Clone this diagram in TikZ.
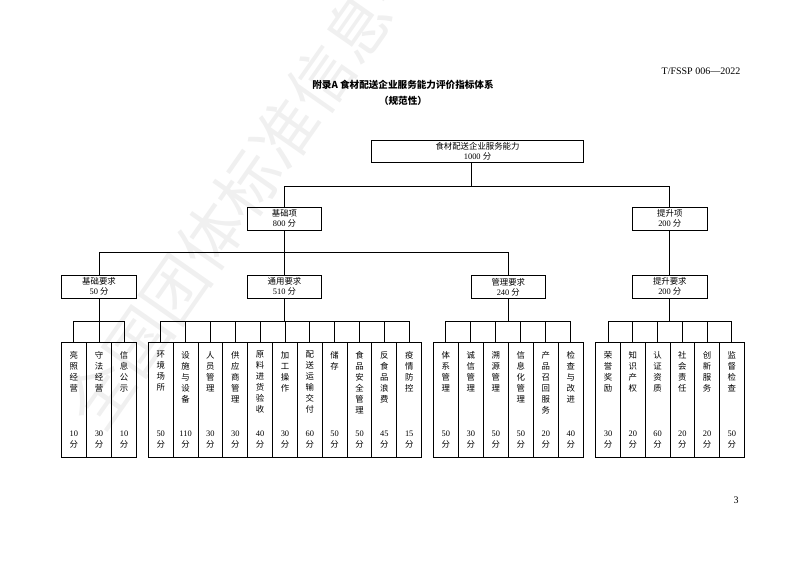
\documentclass[tikz,border=0pt]{standalone}
\usepackage{fontspec}
\setmainfont{Liberation Serif}
\newfontfamily\cjk{Noto Sans CJK SC}
\newcommand{\fen}{{\cjk 分}}
\newcommand{\boxfont}{\fontsize{6.3}{7.5}\selectfont}
\newcommand{\leaffont}{\fontsize{6.3}{8.25}\selectfont}
\tikzset{
  link/.style={line width=0.7pt},
  hdbox/.style={draw,line width=0.7pt,inner sep=0pt,minimum width=56pt,
    minimum height=17.25pt,align=center,font=\boxfont},
  leaf/.style={draw,line width=0.7pt,inner sep=0pt,minimum height=86.25pt,anchor=north},
  leafname/.style={inner sep=0pt,anchor=north,align=center,font=\cjk\leaffont},
  leafscore/.style={inner sep=0pt,anchor=south,align=center,font=\leaffont},
}
\begin{document}
\begin{tikzpicture}[x=0.75pt,y=-0.75pt]
\useasboundingbox (0,0) rectangle (793,561);
% faint watermark running up from the lower left
\begin{scope}
  \clip (0,0) rectangle (793,561);
  \node[rotate=55,text=black!6,font=\cjk\fontsize{48}{48}\selectfont] (mark) at (266,158)
    {全国团体标准信息平台};
\end{scope}
% heading
\node[anchor=east,font=\fontsize{7.5}{8}\selectfont] (std) at (745,71.7) {T/FSSP 006—2022};
\node[font=\cjk\bfseries\fontsize{7.2}{8}\selectfont] (title) at (403,85)
  {附录A 食材配送企业服务能力评价指标体系};
\node[font=\cjk\bfseries\fontsize{7.2}{8}\selectfont] (kind) at (403,100.7) {（规范性）};
\node[font=\fontsize{7.5}{8}\selectfont] (page) at (736,500.7) {3};
% upper levels
\node[hdbox,minimum width=158.7pt,minimum height=16.3pt] (root) at (477.5,151.2)
  {{\cjk 食材配送企业服务能力}\\1000 \fen};
\node[hdbox] (jc) at (284.5,218.8) {{\cjk 基础项}\\800 \fen};
\node[hdbox] (ts) at (669.8,218.8) {{\cjk 提升项}\\200 \fen};
\node[hdbox] (jcyq) at (99,286.8) {{\cjk 基础要求}\\50 \fen};
\node[hdbox] (tyyq) at (284.5,286.8) {{\cjk 通用要求}\\510 \fen};
\node[hdbox] (glyq) at (508.3,286.8) {{\cjk 管理要求}\\240 \fen};
\node[hdbox] (tsyq) at (669.8,286.8) {{\cjk 提升要求}\\200 \fen};
\draw[link] ([xshift=-4.6pt]root.south) -- ++(0,23.5) coordinate (bus0);
\draw[link] (jc.north) |- (bus0) -| (ts.north);
\draw[link] (jc.south) -- ++(0,22) coordinate (bus1);
\draw[link] (jcyq.north) |- (bus1) -| (glyq.north);
\draw[link] (bus1) -- (tyyq.north);
\draw[link] (ts.south) -- (tsyq.north);
% leaves: name at the top, score at the foot
\foreach \i/\t/\s in {1/亮\\照\\经\\营/10, 2/守\\法\\经\\营/30, 3/信\\息\\公\\示/10}
{
  \node[leaf,minimum width=18.85pt] (a\i) at (61.3+25.13*\i-12.57,342.3) {};
  \node[leafname] (at\i) at ([yshift=-6.5pt]a\i.north) {\t};
  \node[leafscore] (as\i) at ([yshift=7pt]a\i.south) {\s\\\fen};
}
\foreach \i/\t/\s in {1/环\\境\\场\\所/50, 2/设\\施\\与\\设\\备/110, 3/人\\员\\管\\理/30,
  4/供\\应\\商\\管\\理/30, 5/原\\料\\进\\货\\验\\收/40, 6/加\\工\\操\\作/30,
  7/配\\送\\运\\输\\交\\付/60, 8/储\\存/50, 9/食\\品\\安\\全\\管\\理/50,
  10/反\\食\\品\\浪\\费/45, 11/疫\\情\\防\\控/15}
{
  \node[leaf,minimum width=18.64pt] (b\i) at (148.3+24.85*\i-12.43,342.3) {};
  \node[leafname] (bt\i) at ([yshift=-6.5pt]b\i.north) {\t};
  \node[leafscore] (bs\i) at ([yshift=7pt]b\i.south) {\s\\\fen};
}
\foreach \i/\t/\s in {1/体\\系\\管\\理/50, 2/诚\\信\\管\\理/30, 3/溯\\源\\管\\理/50,
  4/信\\息\\化\\管\\理/50, 5/产\\品\\召\\回\\服\\务/20, 6/检\\查\\与\\改\\进/40}
{
  \node[leaf,minimum width=18.75pt] (c\i) at (433.3+25*\i-12.5,342.3) {};
  \node[leafname] (ct\i) at ([yshift=-6.5pt]c\i.north) {\t};
  \node[leafscore] (cs\i) at ([yshift=7pt]c\i.south) {\s\\\fen};
}
\foreach \i/\t/\s in {1/荣\\誉\\奖\\励/30, 2/知\\识\\产\\权/20, 3/认\\证\\资\\质/60,
  4/社\\会\\责\\任/20, 5/创\\新\\服\\务/20, 6/监\\督\\检\\查/50}
{
  \node[leaf,minimum width=18.58pt] (d\i) at (595.7+24.77*\i-12.39,342.3) {};
  \node[leafname] (dt\i) at ([yshift=-6.5pt]d\i.north) {\t};
  \node[leafscore] (ds\i) at ([yshift=7pt]d\i.south) {\s\\\fen};
}
% third-level stems and buses down to the leaves
\draw[link] (jcyq.south) -- ++(0,22.4) coordinate (busa);
\draw[link] (tyyq.south) -- ++(0,22.4) coordinate (busb);
\draw[link] (glyq.south) -- ++(0,22.4) coordinate (busc);
\draw[link] (tsyq.south) -- ++(0,22.4) coordinate (busd);
\foreach \p/\n in {a/3, b/11, c/6, d/6}
{
  \draw[link] (\p1.north |- bus\p) -- (\p\n.north |- bus\p);
  \foreach \i in {1,...,\n}
    \draw[link] (\p\i.north) -- (\p\i.north |- bus\p);
}
\end{tikzpicture}
\end{document}
